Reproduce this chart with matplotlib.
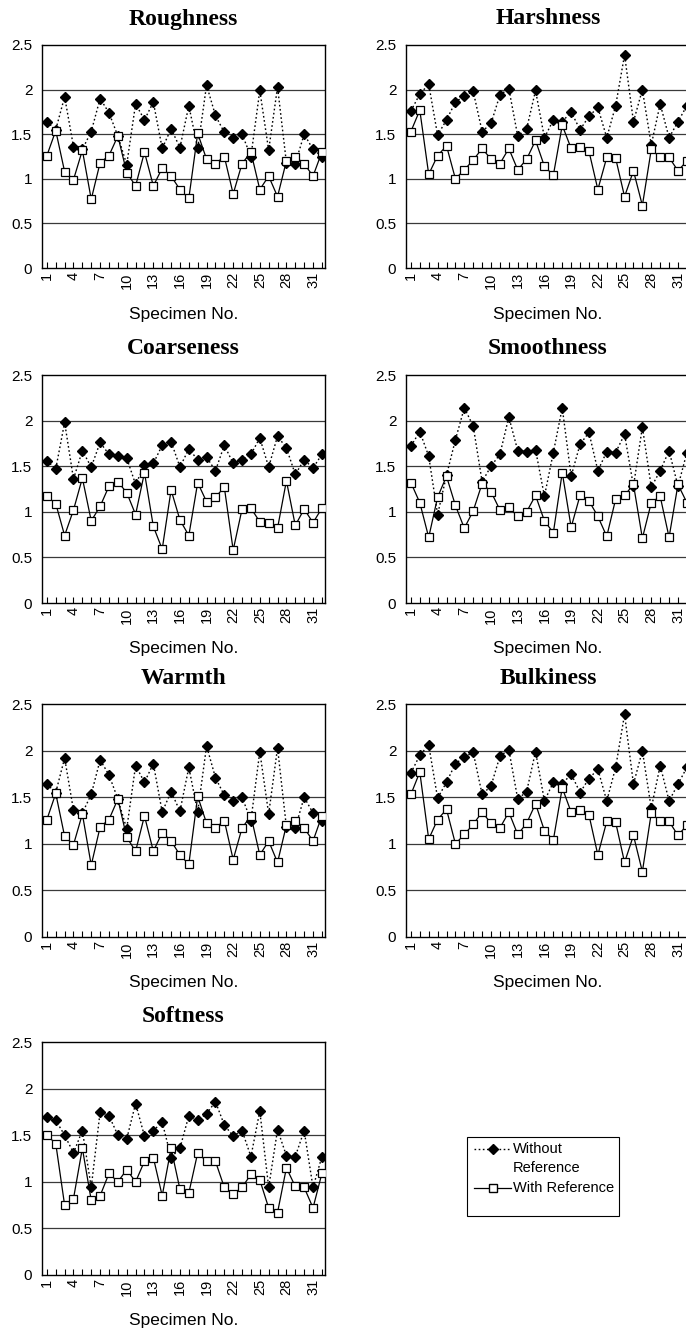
import matplotlib
matplotlib.use("Agg")
import matplotlib.pyplot as plt
from matplotlib.lines import Line2D
from matplotlib.patches import Rectangle

plt.rcParams['font.family'] = ['Liberation Sans', 'DejaVu Sans']

specimens = list(range(1, 33))
tick_labels = [str(i) if (i - 1) % 3 == 0 else '' for i in specimens]

roughness_without = [1.64, 1.55, 1.92, 1.36, 1.33, 1.53, 1.90, 1.74, 1.48, 1.16, 1.84, 1.66, 1.86, 1.34, 1.56, 1.35,
                     1.82, 1.34, 2.05, 1.71, 1.52, 1.46, 1.50, 1.25, 1.99, 1.32, 2.03, 1.18, 1.17, 1.50, 1.33, 1.25]
roughness_with = [1.26, 1.54, 1.08, 0.99, 1.32, 0.77, 1.18, 1.26, 1.48, 1.07, 0.92, 1.30, 0.92, 1.12, 1.03, 0.88,
                  0.78, 1.51, 1.22, 1.17, 1.25, 0.83, 1.17, 1.30, 0.88, 1.03, 0.80, 1.20, 1.25, 1.17, 1.03, 1.30]

harshness_without = [1.76, 1.95, 2.06, 1.49, 1.66, 1.86, 1.93, 1.98, 1.53, 1.62, 1.94, 2.01, 1.48, 1.56, 1.99, 1.46,
                     1.66, 1.64, 1.75, 1.55, 1.70, 1.80, 1.46, 1.82, 2.39, 1.64, 2.00, 1.38, 1.84, 1.46, 1.64, 1.82]
harshness_with = [1.53, 1.77, 1.05, 1.26, 1.37, 1.00, 1.10, 1.21, 1.34, 1.22, 1.17, 1.34, 1.10, 1.22, 1.43, 1.14,
                  1.04, 1.60, 1.34, 1.36, 1.31, 0.88, 1.24, 1.23, 0.80, 1.09, 0.70, 1.33, 1.24, 1.24, 1.09, 1.20]

coarseness_without = [1.56, 1.47, 1.98, 1.36, 1.67, 1.49, 1.76, 1.63, 1.61, 1.59, 1.30, 1.51, 1.53, 1.73, 1.77, 1.49,
                      1.69, 1.57, 1.60, 1.45, 1.73, 1.53, 1.57, 1.63, 1.81, 1.49, 1.83, 1.70, 1.41, 1.57, 1.48, 1.63]
coarseness_with = [1.17, 1.09, 0.74, 1.02, 1.37, 0.90, 1.06, 1.28, 1.33, 1.21, 0.97, 1.43, 0.84, 0.59, 1.24, 0.91,
                   0.74, 1.32, 1.11, 1.16, 1.27, 0.58, 1.03, 1.04, 0.89, 0.88, 0.82, 1.34, 0.85, 1.03, 0.88, 1.04]

smoothness_without = [1.72, 1.88, 1.61, 0.97, 1.40, 1.79, 2.14, 1.94, 1.33, 1.50, 1.63, 2.04, 1.67, 1.66, 1.68, 1.17,
                      1.65, 2.14, 1.39, 1.74, 1.87, 1.45, 1.66, 1.65, 1.85, 1.28, 1.93, 1.27, 1.45, 1.67, 1.28, 1.65]
smoothness_with = [1.32, 1.10, 0.72, 1.16, 1.39, 1.07, 0.82, 1.01, 1.31, 1.22, 1.02, 1.05, 0.95, 1.00, 1.18, 0.90,
                   0.77, 1.43, 0.83, 1.18, 1.12, 0.95, 0.73, 1.14, 1.18, 1.30, 0.71, 1.10, 1.17, 0.72, 1.30, 1.10]

warmth_without = list(roughness_without)
warmth_with = list(roughness_with)

bulkiness_without = list(harshness_without)
bulkiness_with = list(harshness_with)

softness_without = [1.69, 1.66, 1.50, 1.31, 1.55, 0.94, 1.75, 1.71, 1.50, 1.46, 1.84, 1.49, 1.55, 1.64, 1.26, 1.36,
                    1.71, 1.66, 1.73, 1.86, 1.61, 1.49, 1.55, 1.27, 1.76, 0.94, 1.56, 1.28, 1.27, 1.55, 0.94, 1.27]
softness_with = [1.50, 1.41, 0.75, 0.82, 1.36, 0.80, 0.85, 1.09, 1.00, 1.13, 1.00, 1.22, 1.26, 0.85, 1.36, 0.92,
                 0.88, 1.31, 1.22, 1.22, 0.94, 0.87, 0.94, 1.08, 1.02, 0.72, 0.67, 1.15, 0.95, 0.94, 0.72, 1.09]

panels = [
    ("Roughness", roughness_without, roughness_with),
    ("Harshness", harshness_without, harshness_with),
    ("Coarseness", coarseness_without, coarseness_with),
    ("Smoothness", smoothness_without, smoothness_with),
    ("Warmth", warmth_without, warmth_with),
    ("Bulkiness", bulkiness_without, bulkiness_with),
    ("Softness", softness_without, softness_with),
]

W, H = 686, 1334
fig = plt.figure(figsize=(W / 100, H / 100), dpi=100)
fig.patch.set_facecolor('white')

col_x = [(42, 325), (406, 690)]
row_y = [(45, 268), (375, 603), (704, 937), (1042, 1275)]

without_style = dict(color='black', linestyle=(0, (1.2, 1.8)), linewidth=1.0, marker='D',
                     markersize=4.6, markerfacecolor='black', markeredgecolor='black', zorder=3)
with_style = dict(color='black', linestyle='-', linewidth=0.9, marker='s', markersize=5.6,
                  markerfacecolor='white', markeredgecolor='black', markeredgewidth=0.9, zorder=4)

for idx, (name, wo, wi) in enumerate(panels):
    r, c = divmod(idx, 2)
    x0, x1 = col_x[c]
    y0, y1 = row_y[r]
    ax = fig.add_axes([x0 / W, 1 - y1 / H, (x1 - x0) / W, (y1 - y0) / H])
    ax.plot(specimens, wo, **without_style)
    ax.plot(specimens, wi, **with_style)
    ax.set_xlim(0.45, 32.35)
    ax.set_ylim(0, 2.5)
    ax.set_yticks([0, 0.5, 1, 1.5, 2, 2.5])
    ax.set_yticklabels(['0', '0.5', '1', '1.5', '2', '2.5'])
    for g in [0.5, 1, 1.5, 2]:
        ax.axhline(g, color='#3a3a3a', linewidth=0.9, zorder=1)
    ax.set_xticks(specimens)
    ax.set_xticklabels(tick_labels, rotation=90)
    ax.tick_params(axis='x', direction='in', length=4, width=0.8, pad=3, labelsize=10.5)
    ax.tick_params(axis='y', length=0, pad=7, labelsize=11)
    for s in ax.spines.values():
        s.set_linewidth(1.0)
        s.set_color('black')
    xc = (x0 + x1) / 2 / W
    fig.text(xc, 1 - (y0 - 26) / H, name, ha='center', va='center',
             fontsize=17, fontweight='bold', family=['Liberation Serif', 'DejaVu Serif'])
    fig.text(xc, 1 - (y1 + 46) / H, "Specimen No.", ha='center', va='center', fontsize=12.5)

# Legend
lx0, lx1, ly0, ly1 = 467, 619, 1137, 1216
fig.patches.append(Rectangle((lx0 / W, 1 - ly1 / H), (lx1 - lx0) / W, (ly1 - ly0) / H,
                             transform=fig.transFigure, facecolor='white', edgecolor='black',
                             linewidth=0.8, zorder=5))
hx0, hx1 = 474, 511
hm = (hx0 + hx1) / 2
for yy, st in [(1149, without_style), (1188, with_style)]:
    ln = Line2D([hx0 / W, hx1 / W], [1 - yy / H, 1 - yy / H], transform=fig.transFigure,
                color='black', linestyle=st['linestyle'], linewidth=st['linewidth'], zorder=6)
    mk = Line2D([hm / W], [1 - yy / H], transform=fig.transFigure, linestyle='none',
                marker=st['marker'], markersize=st['markersize'], markerfacecolor=st['markerfacecolor'],
                markeredgecolor='black', zorder=7)
    fig.lines.extend([ln, mk])
fig.text(513 / W, 1 - 1149 / H, "Without", ha='left', va='center', fontsize=10.5, zorder=8)
fig.text(513 / W, 1 - 1168 / H, "Reference", ha='left', va='center', fontsize=10.5, zorder=8)
fig.text(513 / W, 1 - 1188 / H, "With Reference", ha='left', va='center', fontsize=10.5, zorder=8)

fig.savefig("out.png", dpi=100, facecolor='white')
